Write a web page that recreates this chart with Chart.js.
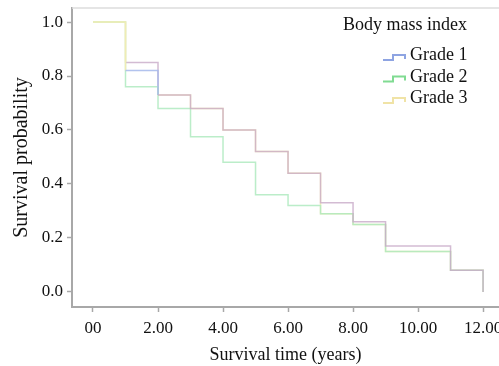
<!DOCTYPE html>
<html lang="en">
<head>
    <meta charset="UTF-8">
    <title>Survival</title>
    <script src="https://cdn.jsdelivr.net/npm/chart.js"></script>
</head>

<style>
    body {
        margin: 0;
        background: #fff;
    }

    .grafico_sty {
        width: 499px;
        height: 366px;
    }
</style>

<body>

    <div class="grafico_sty">
        <canvas id="grafico_km"></canvas>
    </div>

    <script>

        // survival time in years
        const tempos = [0, 1, 2, 3, 4, 5, 6, 7, 8, 9, 10, 11, 12];

        const grade1 = [1.0, 0.82, 0.73, 0.68, 0.60, 0.52, 0.44, 0.33, 0.26, 0.17, 0.17, 0.08, 0.0];
        const grade2 = [1.0, 0.76, 0.68, 0.575, 0.48, 0.36, 0.32, 0.29, 0.25, 0.15, 0.15, 0.08, 0.0];
        const grade3 = [1.0, 0.85, 0.73, 0.68, 0.60, 0.52, 0.44, 0.29, 0.25, 0.15, 0.15, 0.08, 0.0];

        const rotulosSeries = ['Grade 1', 'Grade 2', 'Grade 3'];
        const tituloLegenda = 'Body mass index';
        const xTickLabels = ['00', '2.00', '4.00', '6.00', '8.00', '10.00', '12.00'];

        const fonte = '"Liberation Serif", "Times New Roman", serif';

        const pontos = (serie) => tempos.map((t, i) => ({ x: t, y: serie[i] }));

        const malva = 'rgba(200,170,200,0.8)';
        const amarelo = 'rgba(246,236,180,0.9)';

        // legenda dentro da area do grafico
        const legendaInterna = {
            id: 'legendaInterna',
            afterDraw(chart) {
                const c = chart.ctx;
                const area = chart.chartArea;
                c.save();

                // borda superior clara
                c.strokeStyle = '#dcdcdc';
                c.lineWidth = 1.5;
                c.beginPath();
                c.moveTo(area.left, area.top);
                c.lineTo(chart.width, area.top);
                c.stroke();

                c.fillStyle = '#111';
                c.textAlign = 'left';
                c.textBaseline = 'alphabetic';
                c.font = '18px ' + fonte;
                c.fillText(tituloLegenda, area.right - 156, 30);

                chart.data.datasets.forEach((ds, i) => {
                    const base = 60 + i * 21.5;
                    const x0 = area.right - 116;
                    c.strokeStyle = ds.corLegenda;
                    c.lineWidth = 2;
                    c.beginPath();
                    c.moveTo(x0, base);
                    c.lineTo(x0 + 10, base);
                    c.lineTo(x0 + 10, base - 5);
                    c.lineTo(x0 + 22, base - 5);
                    c.lineTo(x0 + 22, base - 1);
                    c.stroke();
                    c.fillText(ds.label, x0 + 27, base);
                });
                c.restore();
            }
        };

        const ctx = document.getElementById('grafico_km');

        const grafico_km = new Chart(ctx, {
            type: 'line',
            data: {
                datasets: [
                    {
                        label: rotulosSeries[0],
                        data: pontos(grade1),
                        corLegenda: '#8ea4e2',
                        borderColor: malva,
                        segment: {
                            borderColor: (s) => s.p0DataIndex === 1 ? 'rgba(165,185,235,0.85)' : (s.p0DataIndex === 0 ? amarelo : undefined)
                        },
                        borderWidth: 1.5,
                        stepped: true,
                        pointRadius: 0
                    },
                    {
                        label: rotulosSeries[1],
                        data: pontos(grade2),
                        corLegenda: '#80db92',
                        borderColor: 'rgba(175,234,192,0.85)',
                        borderWidth: 1.5,
                        stepped: true,
                        pointRadius: 0
                    },
                    {
                        label: rotulosSeries[2],
                        data: pontos(grade3),
                        corLegenda: '#f0e3a6',
                        borderColor: amarelo,
                        segment: {
                            borderColor: (s) => s.p0DataIndex === 1 ? malva : undefined
                        },
                        borderWidth: 1.5,
                        stepped: true,
                        pointRadius: 0
                    }
                ]
            },
            options: {
                responsive: true,
                maintainAspectRatio: false,
                animation: false,
                layout: {
                    padding: { top: 8, right: 0, left: 0, bottom: 0 }
                },
                plugins: {
                    legend: { display: false },
                    tooltip: { enabled: false }
                },
                scales: {
                    x: {
                        type: 'linear',
                        min: -0.646,
                        max: 12.49,
                        grid: {
                            drawOnChartArea: false,
                            color: '#a8a8a8',
                            tickLength: 5,
                            tickWidth: 1.5
                        },
                        border: { color: '#a8a8a8', width: 2 },
                        ticks: {
                            stepSize: 2,
                            includeBounds: false,
                            maxRotation: 0,
                            padding: 6,
                            color: '#111',
                            font: { family: fonte, size: 17 },
                            callback: (v) => xTickLabels[Math.round(v / 2)] ?? ''
                        },
                        title: {
                            display: true,
                            text: 'Survival time (years)',
                            color: '#111',
                            padding: { top: 0, bottom: 0 },
                            font: { family: fonte, size: 18 }
                        },
                        afterFit: (scale) => {
                            scale.height = 59;
                            scale.paddingLeft = 0;
                            scale.paddingRight = 0;
                        }
                    },
                    y: {
                        min: -0.056,
                        max: 1.052,
                        grid: {
                            drawOnChartArea: false,
                            color: '#a8a8a8',
                            tickLength: 5,
                            tickWidth: 1.5
                        },
                        border: { color: '#a8a8a8', width: 2 },
                        ticks: {
                            stepSize: 0.2,
                            includeBounds: false,
                            padding: 4,
                            color: '#111',
                            font: { family: fonte, size: 17 },
                            callback: (v) => v.toFixed(1)
                        },
                        title: {
                            display: true,
                            text: 'Survival probability',
                            color: '#111',
                            padding: { top: 10, bottom: 0 },
                            font: { family: fonte, size: 20 }
                        },
                        afterFit: (scale) => {
                            scale.width = 72;
                            scale.paddingTop = 0;
                            scale.paddingBottom = 0;
                        }
                    }
                }
            },
            plugins: [legendaInterna]
        });

    </script>

</body>

</html>
